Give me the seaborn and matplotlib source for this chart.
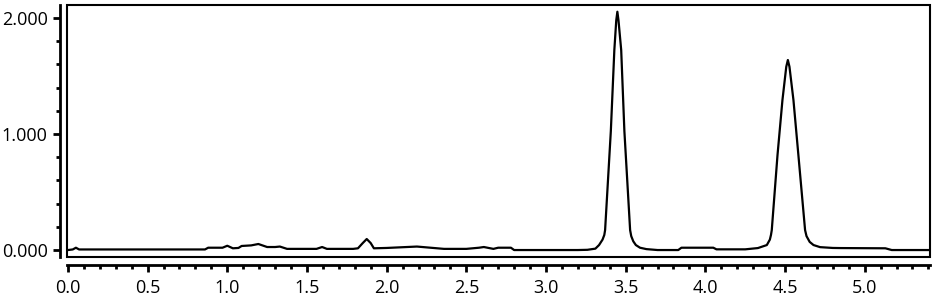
import matplotlib
matplotlib.use("Agg")
import matplotlib.pyplot as plt
from matplotlib.patches import Rectangle
from matplotlib.ticker import MultipleLocator, FormatStrFormatter
import seaborn as sns
import pandas as pd

# Retention time (min) and detector signal
time_min = [
    0.00, 0.03, 0.05, 0.07, 0.86, 0.88, 0.97, 1.00, 1.035, 1.07, 1.09, 1.15,
    1.195, 1.25, 1.30, 1.33, 1.375, 1.56, 1.595, 1.625, 1.79, 1.82, 1.85,
    1.875, 1.90, 1.92, 2.00, 2.19, 2.36, 2.50, 2.58, 2.61, 2.67, 2.70, 2.78,
    2.80, 3.20, 3.26, 3.31, 3.333, 3.355, 3.366, 3.371, 3.407, 3.429, 3.441,
    3.448, 3.455, 3.472, 3.492, 3.528, 3.535, 3.548, 3.564, 3.59, 3.63, 3.70,
    3.83, 3.85, 4.05, 4.07, 4.25, 4.33, 4.386, 4.405, 4.412, 4.417, 4.453,
    4.484, 4.508, 4.518, 4.528, 4.553, 4.584, 4.626, 4.635, 4.655, 4.679,
    4.72, 4.80, 4.85, 5.13, 5.17, 5.41,
]
signal = [
    0.000, 0.005, 0.020, 0.005, 0.005, 0.020, 0.020, 0.037, 0.015, 0.018,
    0.035, 0.040, 0.052, 0.026, 0.026, 0.030, 0.010, 0.010, 0.026, 0.010,
    0.010, 0.015, 0.060, 0.095, 0.060, 0.015, 0.018, 0.030, 0.010, 0.010,
    0.020, 0.026, 0.010, 0.020, 0.020, 0.000, 0.000, 0.002, 0.012, 0.043,
    0.090, 0.130, 0.172, 1.026, 1.724, 1.980, 2.054, 1.980, 1.724, 1.026,
    0.172, 0.120, 0.075, 0.043, 0.020, 0.008, 0.000, 0.000, 0.020, 0.020,
    0.006, 0.006, 0.017, 0.043, 0.090, 0.130, 0.172, 0.819, 1.293, 1.580,
    1.638, 1.580, 1.293, 0.819, 0.172, 0.120, 0.070, 0.043, 0.025, 0.018,
    0.017, 0.015, 0.000, 0.000,
]

df = pd.DataFrame({"time": time_min, "signal": signal})

sns.set_style("ticks")
plt.rcParams["font.family"] = ["Open Sans", "DejaVu Sans"]

fig = plt.figure(figsize=(9.35, 3.0), dpi=100)
ax = fig.add_axes([67 / 935, 1 - 257 / 300, (930 - 67) / 935, (257 - 5) / 300])

sns.lineplot(data=df, x="time", y="signal", estimator=None, sort=False,
             color="black", linewidth=1.6, ax=ax)
ax.lines[0].set_solid_joinstyle("round")

ax.set_xlim(-0.006, 5.41)
ax.set_ylim(-0.060, 2.112)

ax.xaxis.set_major_locator(MultipleLocator(0.5))
ax.xaxis.set_minor_locator(MultipleLocator(0.1))
ax.yaxis.set_major_locator(MultipleLocator(1.0))
ax.yaxis.set_minor_locator(MultipleLocator(0.2))
ax.xaxis.set_major_formatter(FormatStrFormatter("%.1f"))
ax.yaxis.set_major_formatter(FormatStrFormatter("%.3f"))

ax.set_xlabel("")
ax.set_ylabel("")

for side in ["top", "right"]:
    ax.spines[side].set_visible(False)
ax.spines["left"].set_position(("outward", 5))
ax.spines["bottom"].set_position(("outward", 5.8))
for side in ["left", "bottom"]:
    ax.spines[side].set_linewidth(2.0)
    ax.spines[side].set_color("black")

ax.add_patch(Rectangle((0, 0), 1, 1, transform=ax.transAxes, fill=False,
                       edgecolor="black", linewidth=1.5, clip_on=False))

ax.tick_params(axis="both", which="major", length=5, width=2, colors="black",
               labelsize=13, direction="out")
ax.tick_params(axis="both", which="minor", length=3, width=2, colors="black",
               direction="out")
ax.tick_params(axis="x", which="major", pad=5)
ax.tick_params(axis="y", which="major", pad=4)

fig.savefig("out.png", dpi=100)
